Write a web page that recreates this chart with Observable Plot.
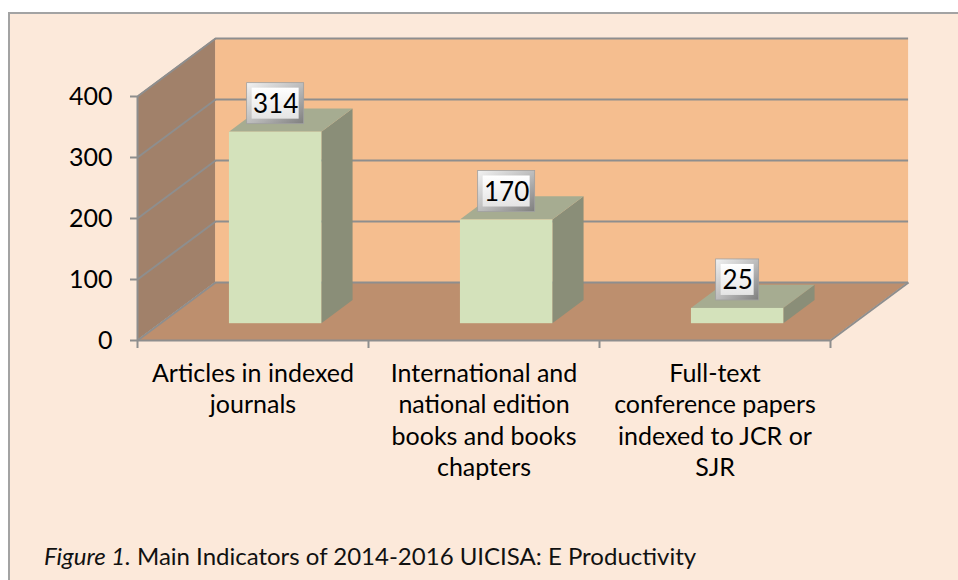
<!DOCTYPE html>
<html>
<head>
<meta charset="utf-8">
<script src="https://cdn.jsdelivr.net/npm/d3@7"></script>
<script src="https://cdn.jsdelivr.net/npm/@observablehq/plot@0.6"></script>
<style>
  html, body { margin: 0; padding: 0; background: #ffffff; }
  #wrap { position: relative; width: 958px; height: 580px; overflow: hidden; font-family: Lato, sans-serif; }
  #box { position: absolute; left: 8px; top: 12px; width: 960px; height: 580px; background: #fce9da;
         border-top: 2px solid #a3a3a3; border-left: 2px solid #a3a3a3; }
  #chart { position: absolute; left: 0; top: 0; }
  #caption { position: absolute; left: 44px; top: 541px; font-size: 24px; color: #111; white-space: nowrap; }
</style>
</head>
<body>
<div id="wrap">
  <div id="box"></div>
  <div id="chart"></div>
  <div id="caption"><i>Figure 1.</i> Main Indicators of 2014-2016 UICISA: E Productivity</div>
</div>
<script>
// ---- data ----
const categories = [
  "Articles in indexed\njournals",
  "International and\nnational edition\nbooks and books\nchapters",
  "Full-text\nconference papers\nindexed to JCR or\nSJR"
];
const values = [314, 170, 25];
const yTicks = [0, 100, 200, 300, 400];
const catTicks = [0, 1, 2, 3];

// ---- 3D layout constants (in data units) ----
const DX = 0.338;   // depth shift along x (category units)
const DY = 95;      // depth shift along y (value units)
const F0 = 0.29, F1 = 0.69, HALF = 0.2;
const PXY = 0.61;   // px per value unit (for label box offsets)
const PXX = 231;    // px per category unit

const bars = values.map((v, i) => ({i, v, c: i + 0.5, label: String(v)}));

const sidePts = bars.flatMap(d => [
  {i: d.i, x: d.c + HALF + F0 * DX, y1: F0 * DY, y2: d.v + F0 * DY},
  {i: d.i, x: d.c + HALF + F1 * DX, y1: F1 * DY, y2: d.v + F1 * DY}
]);
const topPts = bars.flatMap(d => [
  {i: d.i, y: d.v + F0 * DY, x1: d.c - HALF + F0 * DX, x2: d.c + HALF + F0 * DX},
  {i: d.i, y: d.v + F1 * DY, x1: d.c - HALF + F1 * DX, x2: d.c + HALF + F1 * DX}
]);
const sideWall = [
  {x: 0, y1: 0, y2: 400},
  {x: DX, y1: DY, y2: 400 + DY}
];
const floor = [
  {y: 0, x1: 0, x2: 3},
  {y: DY, x1: DX, x2: 3 + DX}
];
const boxes = bars.map(d => {
  const cx = d.c + F0 * DX;
  const cy = d.v + F0 * DY + 28.5 / PXY;
  const hw = (d.label.length * 7 + 7.5) / PXX;
  const hh = 20.5 / PXY;
  return {...d, cx, cy, x1: cx - hw, x2: cx + hw, y1: cy - hh, y2: cy + hh};
});

const H = 500;
const gridColor = "#8e8e8e";
const plot = Plot.plot({
  width: 958,
  height: H,
  marginLeft: 137,
  marginRight: 128,
  marginTop: 96,
  marginBottom: H - 340,
  style: {background: "transparent", fontFamily: "Lato, sans-serif", color: "#000", overflow: "visible"},
  x: {domain: [0, 3], axis: null},
  y: {domain: [0, 400], axis: null},
  marks: [
    // back wall
    Plot.rect([0], {x1: DX, x2: 3 + DX, y1: DY, y2: 400 + DY, fill: "#f5be8f"}),
    // side wall
    Plot.areaY(sideWall, {x: "x", y1: "y1", y2: "y2", fill: "#a1816a"}),
    // floor
    Plot.areaX(floor, {y: "y", x1: "x1", x2: "x2", fill: "#bd8f6e"}),
    // back wall gridlines
    Plot.ruleY(yTicks, {y: d => d + DY, x1: DX, x2: 3 + DX, stroke: gridColor, strokeWidth: 2}),
    // side wall gridlines
    Plot.link(yTicks, {x1: 0, y1: d => d, x2: DX, y2: d => d + DY, stroke: gridColor, strokeWidth: 2}),
    // floor right edge
    Plot.link([0], {x1: 3, y1: 0, x2: 3 + DX, y2: DY, stroke: gridColor, strokeWidth: 2}),
    // axis lines
    Plot.ruleX([0], {y1: 0, y2: 400, stroke: gridColor, strokeWidth: 2}),
    Plot.ruleY([0], {x1: 0, x2: 3, stroke: gridColor, strokeWidth: 2}),
    Plot.axisY({ticks: yTicks, tickSize: 7, tickPadding: 18, stroke: gridColor, strokeWidth: 2, color: "#000", fontSize: 25}),
    Plot.axisX({ticks: catTicks, tickSize: 8, tickFormat: () => "", stroke: gridColor, strokeWidth: 2}),
    Plot.axisX({ticks: bars.map(d => d.c), tickSize: 0, tickPadding: 19, tickFormat: (d, k) => categories[k],
                color: "#000", fontSize: 25, lineHeight: 1.256}),
    // bars: side, top, front
    Plot.areaY(sidePts, {x: "x", y1: "y1", y2: "y2", z: "i", fill: "#8a8e78"}),
    Plot.areaX(topPts, {y: "y", x1: "x1", x2: "x2", z: "i", fill: "#a6ac91"}),
    Plot.rect(bars, {x1: d => d.c - HALF + F0 * DX, x2: d => d.c + HALF + F0 * DX, y1: F0 * DY, y2: d => d.v + F0 * DY, fill: "#d4e2bb"}),
    // label boxes
    Plot.rect(boxes, {x1: "x1", x2: "x2", y1: "y1", y2: "y2", fill: "url(#bevelOuter)", stroke: "#a0a0a0", strokeWidth: 0.8}),
    Plot.rect(boxes, {x1: "x1", x2: "x2", y1: "y1", y2: "y2", inset: 5, fill: "url(#bevelInner)"}),
    Plot.text(boxes, {x: "cx", y: "cy", text: "label", fontSize: 26, fill: "#000", lineAnchor: "middle", dy: 1})
  ]
});

// gradients for bevelled label boxes
const svg = d3.select(plot);
const defs = svg.insert("defs", ":first-child");
const g1 = defs.append("linearGradient").attr("id", "bevelOuter").attr("x1", 0).attr("y1", 0).attr("x2", 1).attr("y2", 1);
g1.append("stop").attr("offset", "0%").attr("stop-color", "#f2f2f2");
g1.append("stop").attr("offset", "55%").attr("stop-color", "#b8b8b8");
g1.append("stop").attr("offset", "100%").attr("stop-color", "#7e7e7e");
const g2 = defs.append("linearGradient").attr("id", "bevelInner").attr("x1", 0).attr("y1", 0).attr("x2", 0).attr("y2", 1);
g2.append("stop").attr("offset", "0%").attr("stop-color", "#ffffff");
g2.append("stop").attr("offset", "100%").attr("stop-color", "#e4e4e4");

document.getElementById("chart").appendChild(plot);
</script>
</body>
</html>
